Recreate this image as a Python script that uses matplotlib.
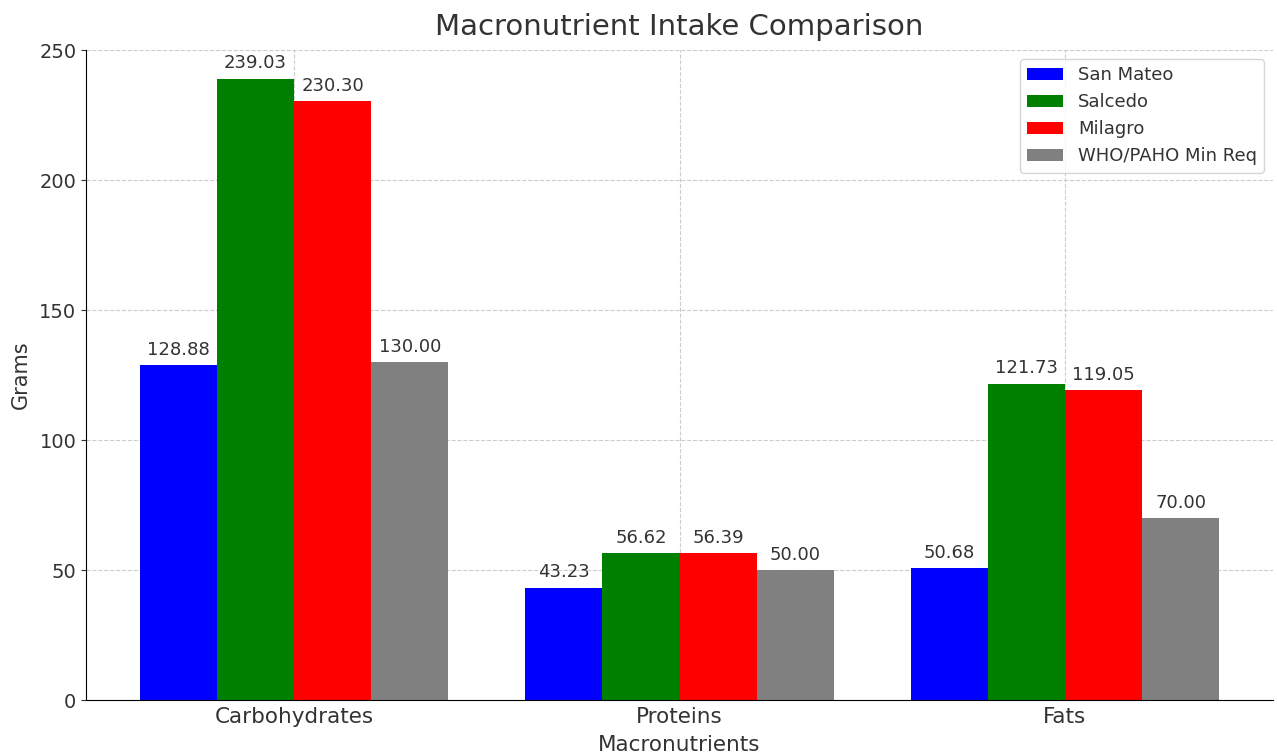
import matplotlib
matplotlib.use("Agg")
import matplotlib.pyplot as plt
import numpy as np

categories = ["Carbohydrates", "Proteins", "Fats"]
series_names = ["San Mateo", "Salcedo", "Milagro", "WHO/PAHO Min Req"]
san_mateo = [128.88, 43.23, 50.68]
salcedo = [239.03, 56.62, 121.73]
milagro = [230.30, 56.39, 119.05]
who_paho = [130.00, 50.00, 70.00]
colors = ["blue", "green", "red", "gray"]

text_color = "#333333"
plt.rcParams["text.color"] = text_color
plt.rcParams["axes.labelcolor"] = text_color
plt.rcParams["xtick.color"] = text_color
plt.rcParams["ytick.color"] = text_color

fig = plt.figure(figsize=(12.77, 7.55), dpi=100)
ax = fig.add_axes([86/1277, 1-700/755, (1273-86)/1277, (700-50)/755])

x = np.arange(len(categories))
width = 0.2
all_series = [san_mateo, salcedo, milagro, who_paho]
for i, (vals, name, c) in enumerate(zip(all_series, series_names, colors)):
    pos = x + (i - 1.5) * width
    bars = ax.bar(pos, vals, width, label=name, color=c, zorder=2)
    for b, v in zip(bars, vals):
        ax.annotate(f"{v:.2f}", (b.get_x() + b.get_width() / 2, v),
                    xytext=(0, 4.5), textcoords="offset points",
                    ha="center", va="bottom", fontsize=13, color=text_color)

ax.set_ylim(0, 250)
ax.set_yticks([0, 50, 100, 150, 200, 250])
ax.set_xticks(x)
ax.set_xticklabels(categories)
ax.tick_params(axis="y", labelsize=14)
ax.tick_params(axis="x", labelsize=15.5, length=0, pad=5)
ax.set_xlabel("Macronutrients", fontsize=15.5, labelpad=6)
ax.set_ylabel("Grams", fontsize=15, labelpad=6)
ax.set_title("Macronutrient Intake Comparison", fontsize=21, color=text_color, pad=11)
ax.grid(True, linestyle="--", color="#cccccc", linewidth=0.8, zorder=0)
ax.set_axisbelow(True)
for s in ["top", "right"]:
    ax.spines[s].set_visible(False)
ax.legend(loc="upper right", fontsize=13, labelspacing=0.5, borderaxespad=0.5)

fig.savefig("out.png", dpi=100)
